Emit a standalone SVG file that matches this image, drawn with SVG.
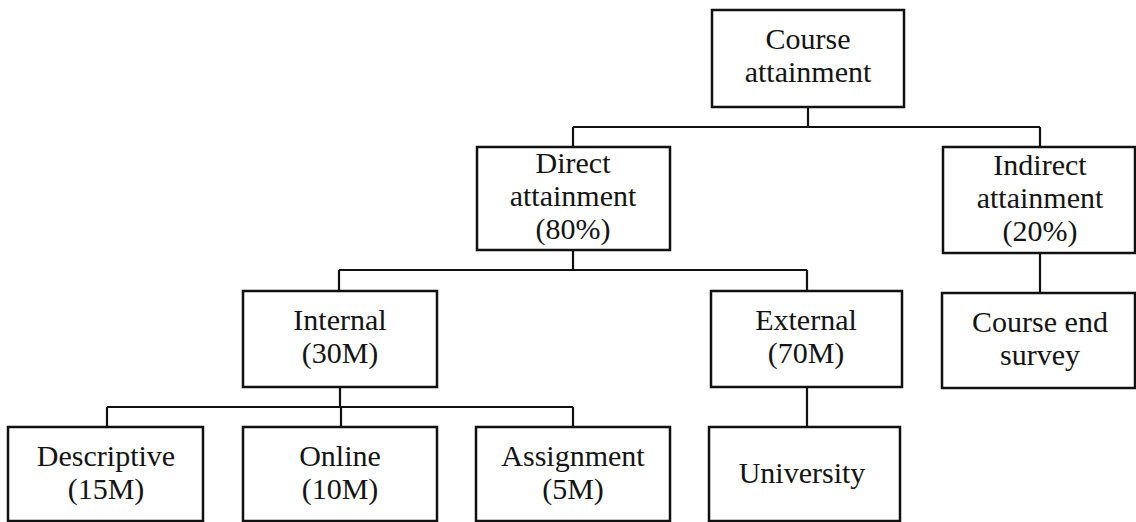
<svg xmlns="http://www.w3.org/2000/svg" width="1136" height="522" viewBox="0 0 1136 522">
  <style>
    .box { fill: #ffffff; stroke: #111111; stroke-width: 2.5; }
    .lbl { font-family: "Liberation Serif", "Times New Roman", Times, serif; font-size: 30px; fill: #141414; text-anchor: middle; }
    .conn { fill: none; stroke: #111111; stroke-width: 2.2; }
  </style>
  <rect width="1136" height="522" fill="#ffffff"/>

  <!-- tree connectors -->
  <g id="connectors">
    <path class="conn" d="M808 107 V127 M573 127 H1040 M573 127 V147 M1040 127 V147"/>
    <path class="conn" d="M573 250 V270 M339 270 H807 M339 270 V291 M807 270 V291"/>
    <path class="conn" d="M340 387 V407 M107 407 H573 M107 407 V427 M341 407 V427 M573 407 V427"/>
    <path class="conn" d="M807 387 V427"/>
    <path class="conn" d="M1040 253 V293"/>
  </g>

  <g id="course-attainment">
    <rect class="box" x="712" y="10" width="192" height="97"/>
    <text class="lbl" x="808" y="49">Course</text>
    <text class="lbl" x="808" y="82">attainment</text>
  </g>

  <g id="direct-attainment">
    <rect class="box" x="477" y="147" width="193" height="103"/>
    <text class="lbl" x="573" y="173">Direct</text>
    <text class="lbl" x="573" y="206">attainment</text>
    <text class="lbl" x="573" y="239">(80%)</text>
  </g>

  <g id="indirect-attainment">
    <rect class="box" x="943" y="147" width="192" height="106"/>
    <text class="lbl" x="1040" y="175">Indirect</text>
    <text class="lbl" x="1040" y="208">attainment</text>
    <text class="lbl" x="1040" y="241">(20%)</text>
  </g>

  <g id="internal">
    <rect class="box" x="243" y="291" width="194" height="96"/>
    <text class="lbl" x="340" y="330">Internal</text>
    <text class="lbl" x="340" y="363">(30M)</text>
  </g>

  <g id="external">
    <rect class="box" x="711" y="291" width="191" height="96"/>
    <text class="lbl" x="806" y="330">External</text>
    <text class="lbl" x="806" y="363">(70M)</text>
  </g>

  <g id="course-end-survey">
    <rect class="box" x="942" y="293" width="193" height="95"/>
    <text class="lbl" x="1040" y="332">Course end</text>
    <text class="lbl" x="1040" y="365">survey</text>
  </g>

  <g id="descriptive">
    <rect class="box" x="8" y="427" width="195" height="94"/>
    <text class="lbl" x="106" y="466">Descriptive</text>
    <text class="lbl" x="106" y="499">(15M)</text>
  </g>

  <g id="online">
    <rect class="box" x="243" y="427" width="194" height="94"/>
    <text class="lbl" x="340" y="466">Online</text>
    <text class="lbl" x="340" y="499">(10M)</text>
  </g>

  <g id="assignment">
    <rect class="box" x="476" y="427" width="194" height="94"/>
    <text class="lbl" x="573" y="466">Assignment</text>
    <text class="lbl" x="573" y="499">(5M)</text>
  </g>

  <g id="university">
    <rect class="box" x="709" y="427" width="191" height="94"/>
    <text class="lbl" x="802" y="483">University</text>
  </g>
</svg>
